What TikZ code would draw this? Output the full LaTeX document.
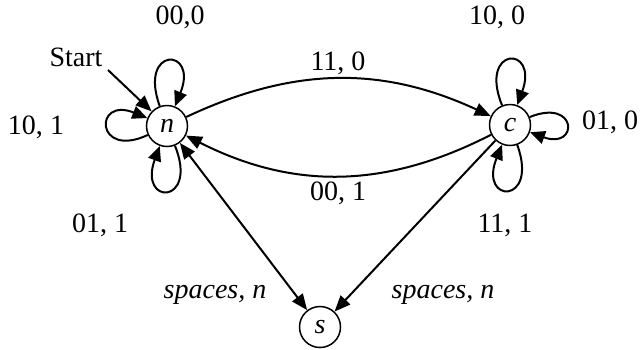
\documentclass[tikz,border=0pt]{standalone}
\usepackage{fontspec}
\setmainfont{Liberation Serif}
\usetikzlibrary{arrows.meta}
\begin{document}
\begin{tikzpicture}[x=1pt,y=-1pt,
  state/.style={draw,circle,line width=1.5pt,minimum size=41pt,inner sep=0pt,font=\fontsize{28}{30}\selectfont\itshape},
  lbl/.style={font=\fontsize{28}{30}\selectfont,inner sep=0pt},
  ilbl/.style={font=\fontsize{28}{30}\selectfont\itshape,inner sep=0pt},
  edge/.style={line width=2pt,-{Triangle[length=16pt,width=13pt]}},
  both/.style={line width=2pt,{Triangle[length=16pt,width=13pt]}-{Triangle[length=16pt,width=13pt]}},
  loope/.style={line width=2pt,-{Triangle[length=15pt,width=13pt]},distance=64pt}]
\useasboundingbox (0,0) rectangle (642,349);
\node[state] (n) at (167,126) {n};
\node[state] (c) at (510,125) {c};
\node[state] (s) at (320,327) {s};
\node[lbl] (start) at (76,57) {Start};
\coordinate (st) at (108,70);
\node[lbl] (l00) at (180,17) {00,0};
\node[lbl] (l10a) at (36,127) {10, 1};
\node[lbl] (l01a) at (100,225) {01, 1};
\node[lbl] (l11a) at (338,63) {11, 0};
\node[lbl] (l00b) at (338,193) {00, 1};
\node[lbl] (l10b) at (497,17) {10, 0};
\node[lbl] (l01b) at (610,122) {01, 0};
\node[lbl] (l11b) at (505,225) {11, 1};
\node[ilbl] (sp1) at (215,295) {spaces, n};
\node[ilbl] (sp2) at (443,295) {spaces, n};
% start
\draw[edge] (st) -- (n);
% loops at n
\draw[loope] (n) to[out=110,in=68] (n);
\draw[loope] (n) to[out=205,in=158,distance=58pt] (n);
\draw[loope] (n) to[out=-68,in=-110] (n);
% loops at c
\draw[loope] (c) to[out=112,in=70] (c);
\draw[loope] (c) to[out=22,in=-20,distance=52pt] (c);
\draw[loope] (c) to[out=-70,in=-112] (c);
% n <-> c
\draw[edge] (n) to[bend left=25] (c);
\draw[edge] (c) to[bend left=27] (n);
% to s
\draw[both] (n) -- (s);
\draw[edge] (c) -- (s);
\end{tikzpicture}
\end{document}
